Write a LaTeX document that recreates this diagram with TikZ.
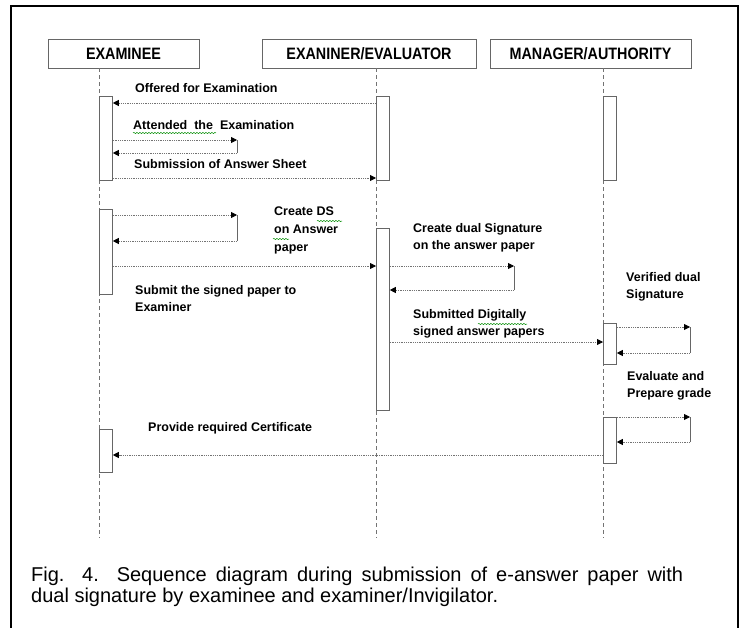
\documentclass[tikz,border=0pt]{standalone}
\usepackage{fontspec}
\setmainfont{Liberation Sans}
\newfontfamily\headfont[FakeStretch=0.87]{Liberation Sans}
\usetikzlibrary{positioning,
arrows.meta,
decorations.pathmorphing}
\tikzset{
  % boxes on top of the lifelines
  actor/.style={draw=black!60,line width=0.8pt,minimum height=29pt,inner sep=0pt,
    font=\headfont\fontsize{16.5}{16.5}\selectfont\bfseries},
  % activation bars
  actbar/.style={draw=black!60,fill=white,line width=0.8pt,minimum width=13pt,
    inner sep=0pt,anchor=north west},
  lifeline/.style={draw=black!55,line width=0.8pt,dash pattern=on 4pt off 3pt},
  % dotted message with a black head
  msg/.style={draw=black!55,line width=0.8pt,dash pattern=on 1pt off 0.8pt,
    -{Triangle[length=6pt,width=6pt,color=black]}},
  turnline/.style={draw=black!60,line width=0.8pt},
  msglabel/.style={font=\fontsize{12.5}{17}\selectfont\bfseries,inner sep=0pt,
    anchor=west,align=left},
  squiggle/.style={draw=green!55!black,line width=0.5pt,decorate,
    decoration={snake,amplitude=0.6pt,segment length=3pt}},
}
\begin{document}
\begin{tikzpicture}[x=1pt,y=-1pt]
\useasboundingbox (0,0) rectangle (743,628);
\draw[line width=2.2pt] (11,640) -- (11,6) -- (738,6) -- (738,640);

\node[actor,minimum width=151pt] (examinee) at (123.5,53.5) {EXAMINEE};
\node[actor,minimum width=214pt] (evaluator) at (369,53.5) {EXANINER/EVALUATOR};
\node[actor,minimum width=201pt] (manager) at (590.5,53.5) {MANAGER/AUTHORITY};

\coordinate (exEnd) at (99,538);
\coordinate (evEnd) at (376,538);
\coordinate (maEnd) at (603,538);
\draw[lifeline] (examinee.south -| exEnd) -- (exEnd);
\draw[lifeline] (evaluator.south -| evEnd) -- (evEnd);
\draw[lifeline] (manager.south -| maEnd) -- (maEnd);

\node[actbar,minimum height=84pt] (ex1) at (99,96) {};
\node[actbar,minimum height=85pt] (ex2) at (99,209) {};
\node[actbar,minimum height=43pt] (ex3) at (99,429) {};
\node[actbar,minimum height=84pt] (ev1) at (376,96) {};
\node[actbar,minimum height=182pt] (ev2) at (376,228) {};
\node[actbar,minimum height=84pt] (ma1) at (603,96) {};
\node[actbar,minimum height=41pt] (ma2) at (603,323) {};
\node[actbar,minimum height=46pt] (ma3) at (603,417) {};

% messages between lifelines
\coordinate (r1) at (0,103);
\coordinate (r3) at (0,178);
\coordinate (r5) at (0,266);
\coordinate (r7) at (0,342);
\coordinate (r9) at (0,455);
\draw[msg] (ev1.west |- r1) -- (ex1.east |- r1);
\draw[msg] (ex1.east |- r3) -- (ev1.west |- r3);
\draw[msg] (ex2.east |- r5) -- (ev2.west |- r5);
\draw[msg] (ev2.east |- r7) -- (ma2.west |- r7);
\draw[msg] (ma3.west |- r9) -- (ex3.east |- r9);

% self messages
\foreach \b/\ya/\yb/\xk in {ex1/140/153/237, ex2/215/241/237, ev2/266/290/514,
                             ma2/327/353/690, ma3/417/442/690}{
  \coordinate (k) at (\xk,\ya);
  \coordinate (kb) at (\xk,\yb);
  \draw[msg] (\b.east |- k) -- (k);
  \draw[turnline] (k) -- (kb);
  \draw[msg] (kb) -- (\b.east |- kb);
}

\node[msglabel] (lOffered) at (135,88) {Offered for Examination};
\node[msglabel] (lAttended) at (133,125) {Attended\ \ the\ \ Examination};
\node[msglabel] (lSubmission) at (134,164) {Submission of Answer Sheet};
\node[msglabel] (lCreateDS) at (274,230) {Create DS\\[1pt]on Answer\\[1pt]paper};
\node[msglabel] (lSubmit) at (135,298.5) {Submit the signed paper to\\Examiner};
\node[msglabel] (lCreateDual) at (413,238) {Create dual Signature\\on the answer paper};
\node[msglabel] (lVerified) at (626,286.5) {Verified dual\\Signature};
\node[msglabel] (lSubmitted) at (413,324) {Submitted Digitally\\signed answer papers};
\node[msglabel] (lEvaluate) at (627,386) {Evaluate and\\Prepare grade};
\node[msglabel] (lProvide) at (148,428) {Provide required Certificate};

% spell check marks
\draw[squiggle] (133,133) -- (216,133);
\draw[squiggle] (317,221) -- (342,221);
\draw[squiggle] (273,239) -- (289,239);
\draw[squiggle] (478,324) -- (527,324);

\node[font=\fontsize{20}{21}\selectfont,text width=652pt,align=justify,inner sep=0pt,
  anchor=north west] (caption) at (31,567)
  {Fig. 4.\ \ Sequence diagram during submission of e-answer paper with\linebreak
   dual signature by examinee and examiner/Invigilator.};
\end{tikzpicture}
\end{document}
